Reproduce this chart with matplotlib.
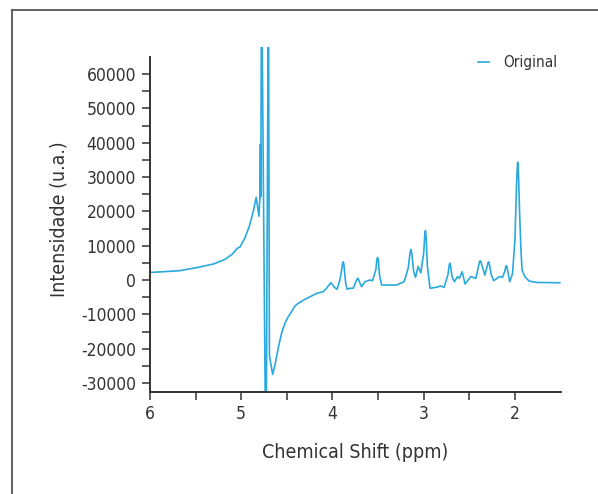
import matplotlib
matplotlib.use("Agg")
import matplotlib.pyplot as plt
from matplotlib.lines import Line2D
from matplotlib import font_manager as fm

_avail = {f.name for f in fm.fontManager.ttflist}
_stretch = 'normal'
if 'Liberation Sans Narrow' in _avail:
    _fam = 'Liberation Sans Narrow'
elif 'DejaVu Sans Condensed' in _avail:
    _fam = 'DejaVu Sans Condensed'
else:
    _fam = 'DejaVu Sans'
    _stretch = 'condensed'
plt.rcParams['font.family'] = [_fam, 'DejaVu Sans']
plt.rcParams['font.stretch'] = _stretch

# Chemical shift (ppm) and intensity (u.a.)
ppm = [6.00, 5.68, 5.47, 5.30, 5.18, 5.095, 5.045, 5.011, 4.957, 4.907,
       4.865, 4.836, 4.806, 4.795, 4.790, 4.786, 4.777, 4.729, 4.702, 4.691,
       4.656, 4.631, 4.595, 4.558, 4.521, 4.485, 4.448, 4.412, 4.376, 4.302,
       4.248, 4.174, 4.102, 4.065, 4.040, 4.018, 3.995, 3.981, 3.949, 3.919,
       3.900, 3.890, 3.883, 3.876, 3.866, 3.855, 3.839, 3.809, 3.773, 3.735,
       3.725, 3.718, 3.705, 3.681, 3.645, 3.590, 3.561, 3.525, 3.513, 3.506,
       3.498, 3.485, 3.462, 3.298, 3.215, 3.170, 3.150, 3.140, 3.130, 3.110,
       3.090, 3.062, 3.056, 3.032, 3.000, 2.988, 2.981, 2.974, 2.960, 2.931,
       2.860, 2.818, 2.777, 2.735, 2.720, 2.714, 2.707, 2.690, 2.664, 2.630,
       2.609, 2.579, 2.547, 2.484, 2.429, 2.400, 2.386, 2.380, 2.372, 2.330,
       2.305, 2.294, 2.288, 2.280, 2.260, 2.233, 2.171, 2.137, 2.112, 2.100,
       2.095, 2.088, 2.057, 2.027, 2.000, 1.983, 1.973, 1.969, 1.964, 1.950,
       1.935, 1.922, 1.893, 1.846, 1.764, 1.509]
intensity = [2200, 2700, 3700, 4700, 6000, 7600, 9200, 9700, 12400, 16000,
             20400, 24100, 18600, 24500, 39600, 24300, 90000, -60000, 90000, -22000,
             -27500, -24800, -19900, -15500, -12600, -10700, -9200, -7600, -6800, -5600,
             -4900, -3900, -3400, -2400, -1500, -800, -1500, -2100, -2700, 0,
             2800, 4900, 5300, 4700, 1950, -1000, -2700, -2400, -2400, 0,
             500, 400, -500, -1950, -500, 0, -200, 3000, 6000, 6600,
             5800, 1500, -1450, -1450, -500, 3500, 8000, 8900, 7500, 2500,
             800, 3900, 3600, 2100, 8000, 13500, 14400, 12500, 4000, -2400,
             -2100, -1750, -2100, 1500, 4500, 4900, 4300, 1000, -500, 1000,
             500, 2400, -1150, 1000, 500, 4000, 5500, 5600, 5200, 1450,
             4000, 5200, 5300, 4500, 1500, -200, 1000, 800, 2500, 4000,
             4200, 3800, -500, 1950, 12000, 28000, 33800, 34300, 33000, 20000,
             8700, 2900, 1000, -300, -700, -800]

x_ticks = [6, 5.5, 5, 4.5, 4, 3.5, 3, 2.5, 2]
x_labels = ['6', '', '5', '', '4', '', '3', '', '2']
y_ticks = list(range(-30000, 65000, 5000))
y_labels = [str(v) if v % 10000 == 0 else '' for v in y_ticks]

line_color = '#29a9df'
text_color = '#333333'

fig = plt.figure(figsize=(5.98, 4.94), dpi=100)
ax = fig.add_axes([0.2508, 0.2073, 0.6867, 0.6984])

ax.plot(ppm, intensity, color=line_color, lw=1.2, label='Original')

ax.set_xlim(6, 1.5)
ax.set_ylim(-32500, 68000)

ax.spines['top'].set_visible(False)
ax.spines['right'].set_visible(False)
for s in ('left', 'bottom'):
    ax.spines[s].set_color('#333333')
    ax.spines[s].set_linewidth(1.4)
ax.spines['left'].set_bounds(-32500, 65000)

ax.set_xticks(x_ticks)
ax.set_xticklabels(x_labels)
ax.set_yticks(y_ticks)
ax.set_yticklabels(y_labels)
ax.tick_params(axis='both', direction='out', length=5.5, width=1.2,
               color='#444444', labelcolor=text_color, labelsize=12.5, pad=4.5)

ax.set_xlabel('Chemical Shift (ppm)', fontsize=14, color=text_color, labelpad=14)
ax.set_ylabel('Intensidade (u.a.)', fontsize=14, color=text_color, labelpad=9)

leg = ax.legend(loc='upper right', bbox_to_anchor=(557 / 598, 1 - 55 / 494),
                bbox_transform=fig.transFigure, frameon=False,
                handlelength=0.7, handletextpad=0.9, borderpad=0,
                borderaxespad=0, fontsize=11)
for t in leg.get_texts():
    t.set_color(text_color)

# outer frame (partially visible box)
fx = 11.5 / 598
fy = 1 - 10 / 494
fig.add_artist(Line2D([fx, fx], [0, fy], transform=fig.transFigure,
                      color='#555555', lw=1.3))
fig.add_artist(Line2D([fx, 1], [fy, fy], transform=fig.transFigure,
                      color='#555555', lw=1.3))

fig.savefig('out.png', dpi=100)
